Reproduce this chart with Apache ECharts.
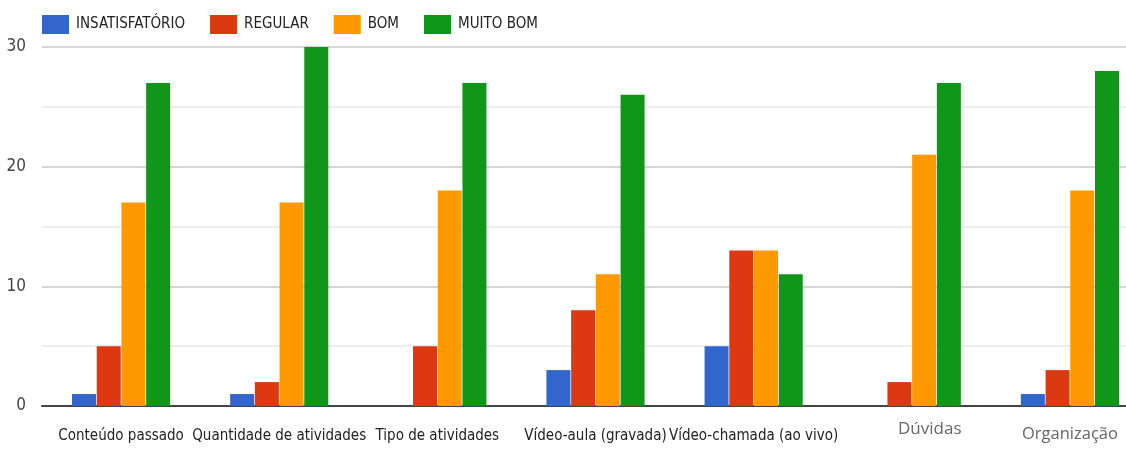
<!DOCTYPE html>
<html>
<head>
<meta charset="utf-8">
<script src="https://cdn.jsdelivr.net/npm/echarts@6/dist/echarts.min.js"></script>
<style>
    html, body { margin: 0; padding: 0; background: #fff; }
    #chart { width: 1126px; height: 451px; }
</style>
</head>
<body>
<div id="chart"></div>
<script>
    // categorias e valores
    var categorias = ['Conteúdo passado', 'Quantidade de atividades', 'Tipo de atividades',
        'Vídeo-aula (gravada)', 'Vídeo-chamada (ao vivo)', 'Dúvidas', 'Organização'];
    var insatisfatorio = [1, 1, 0, 3, 5, 0, 1];
    var regular = [5, 2, 5, 8, 13, 2, 3];
    var bom = [17, 17, 18, 11, 13, 21, 18];
    var muitoBom = [27, 30, 27, 26, 11, 27, 28];
    var yTicks = [0, 10, 20, 30];

    var fonte = '"DejaVu Sans Condensed", "Liberation Sans Narrow", "Roboto", sans-serif';

    var myChart = echarts.init(document.getElementById('chart'));

    function serie(nome, dados, cor) {
        return {
            name: nome,
            type: 'bar',
            data: dados,
            barWidth: 24,
            barGap: '3%',
            itemStyle: { color: cor },
            emphasis: { disabled: true }
        };
    }

    var option = {
        animation: false,
        textStyle: { fontFamily: fonte },
        legend: {
            left: 37,
            top: 10,
            itemWidth: 27,
            itemHeight: 19,
            itemGap: 25,
            icon: 'rect',
            textStyle: { fontFamily: fonte, fontSize: 15, color: '#222', padding: [0, 0, 0, 2] },
            data: ['INSATISFATÓRIO', 'REGULAR', 'BOM', 'MUITO BOM']
        },
        grid: { left: 42, top: 47, width: 1107, height: 359, outerBoundsMode: 'none', containLabel: false },
        xAxis: {
            type: 'category',
            data: categorias,
            axisTick: { show: false },
            axisLine: { lineStyle: { color: '#444', width: 2 } },
            axisLabel: {
                interval: 0,
                margin: 14,
                fontFamily: fonte,
                fontSize: 15,
                color: '#222',
                formatter: function (v) {
                    if (v === 'Dúvidas') return '{d|' + v + '}';
                    if (v === 'Organização') return '{o|' + v + '}';
                    return '{n|' + v + '}';
                },
                rich: {
                    n: { fontFamily: fonte, fontSize: 15, color: '#222', padding: [9, 0, 0, 0] },
                    d: { fontFamily: '"Open Sans", sans-serif', fontSize: 17, color: '#666', padding: [1, 0, 0, 36] },
                    o: { fontFamily: '"Open Sans", sans-serif', fontSize: 16.5, color: '#666', padding: [6, 0, 0, 0] }
                }
            }
        },
        yAxis: {
            type: 'value',
            min: yTicks[0],
            max: yTicks[yTicks.length - 1],
            interval: 10,
            axisLine: { show: false },
            axisTick: { show: false },
            axisLabel: { margin: 16, fontFamily: fonte, fontSize: 17, color: '#444' },
            splitLine: { lineStyle: { color: '#d6d6d6', width: 2 } },
            minorTick: { show: false, splitNumber: 2 },
            minorSplitLine: { show: true, lineStyle: { color: '#eeeeee', width: 2 } }
        },
        series: [
            serie('INSATISFATÓRIO', insatisfatorio, '#3366cc'),
            serie('REGULAR', regular, '#dc3912'),
            serie('BOM', bom, '#ff9900'),
            serie('MUITO BOM', muitoBom, '#109618')
        ]
    };

    myChart.setOption(option);
</script>
</body>
</html>
